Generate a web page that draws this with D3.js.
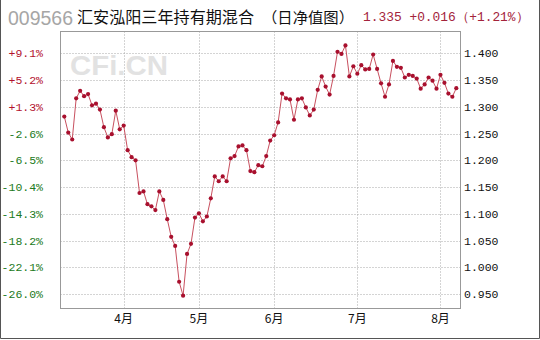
<!DOCTYPE html>
<html>
<head>
<meta charset="utf-8">
<script src="https://cdn.jsdelivr.net/npm/d3@7"></script>
<style>
  body { margin: 0; background: #fff; }
  svg { display: block; }
</style>
</head>
<body>
<div id="chart"></div>
<script>
// daily NAV, one entry per trading day (mid-March .. early August)
const navValues = [
  1.282, 1.252, 1.239, 1.316, 1.330, 1.320, 1.324, 1.303, 1.306, 1.295,
  1.262, 1.243, 1.249, 1.293, 1.258, 1.265, 1.219, 1.206, 1.200, 1.139,
  1.142, 1.118, 1.114, 1.107, 1.142, 1.126, 1.090, 1.057, 1.040, 0.973,
  0.947, 1.025, 1.044, 1.093, 1.101, 1.086, 1.095, 1.129, 1.170, 1.161,
  1.170, 1.161, 1.204, 1.208, 1.226, 1.228, 1.219, 1.180, 1.178, 1.191,
  1.189, 1.208, 1.237, 1.247, 1.271, 1.325, 1.316, 1.314, 1.276, 1.314,
  1.316, 1.299, 1.284, 1.295, 1.332, 1.357, 1.338, 1.323, 1.358, 1.403,
  1.399, 1.415, 1.357, 1.376, 1.362, 1.378, 1.370, 1.371, 1.398, 1.371,
  1.344, 1.319, 1.342, 1.386, 1.375, 1.373, 1.355, 1.360, 1.358, 1.353,
  1.334, 1.342, 1.355, 1.349, 1.334, 1.360, 1.345, 1.325, 1.319, 1.335
];
const monthLabels = ["4月", "5月", "6月", "7月", "8月"];
const monthStartIndex = [15, 34, 53, 74, 95];
const navTicks = [1.40, 1.35, 1.30, 1.25, 1.20, 1.15, 1.10, 1.05, 1.00, 0.95];
const pctLabels = ["+9.1%", "+5.2%", "+1.3%", "-2.6%", "-6.5%", "-10.4%", "-14.3%", "-18.2%", "-22.1%", "-26.0%"];
const fundCode = "009566";
const fundName = "汇安泓阳三年持有期混合";
const chartKind = "（日净值图）";
const latestText = "1.335 +0.016（+1.21%）";

const W = 540, H = 340;
const plot = { left: 60.5, right: 460.5, top: 31.5, bottom: 308.5 };
const tickFont = "'Liberation Mono', 'DejaVu Sans Mono', monospace";

const svg = d3.select("#chart").append("svg")
  .attr("width", W)
  .attr("height", H);

const x = d3.scaleLinear()
  .domain([-0.96, navValues.length + 0.06])
  .range([plot.left, plot.right]);

const y = d3.scaleLinear()
  .domain([0.923, 1.441])
  .range([plot.bottom, plot.top]);

const crisp = v => Math.round(v) + 0.5;

// outer frame
svg.append("path")
  .attr("d", `M0.5,0 V${H - 1.5} H${W - 0.5} V0`)
  .attr("fill", "none")
  .attr("stroke", "#555");

// title line
const title = svg.append("g").attr("class", "title");
title.append("text")
  .attr("x", 8).attr("y", 25)
  .attr("textLength", 65).attr("lengthAdjust", "spacingAndGlyphs")
  .style("font", "20px 'Liberation Sans', Arial, sans-serif")
  .style("fill", "#a6a6a6")
  .text(fundCode);
title.append("text")
  .attr("x", 77).attr("y", 23)
  .attr("textLength", 177).attr("lengthAdjust", "spacingAndGlyphs")
  .style("font", "16px 'Noto Sans CJK SC', sans-serif")
  .style("fill", "#111")
  .text(fundName);
title.append("text")
  .attr("x", 262).attr("y", 23)
  .attr("textLength", 92).attr("lengthAdjust", "spacingAndGlyphs")
  .style("font", "15px 'Noto Sans CJK SC', sans-serif")
  .style("fill", "#111")
  .text(chartKind);
title.append("text")
  .attr("x", 363).attr("y", 21)
  .attr("textLength", 166).attr("lengthAdjust", "spacingAndGlyphs")
  .style("font", "12.5px " + tickFont)
  .style("fill", "#a3233b")
  .text(latestText);

// watermark
svg.append("text")
  .attr("x", 70).attr("y", 75)
  .attr("textLength", 98).attr("lengthAdjust", "spacingAndGlyphs")
  .style("font", "bold 28px 'Liberation Sans', Arial, sans-serif")
  .style("fill", "#e2e2e2")
  .text("CFi.CN");

// grid
const grid = svg.append("g")
  .attr("stroke", "#a8a8a8")
  .attr("stroke-dasharray", "1,2");

grid.selectAll("line.h")
  .data(navTicks)
  .join("line")
  .attr("class", "h")
  .attr("x1", plot.left).attr("x2", plot.right)
  .attr("y1", d => crisp(y(d))).attr("y2", d => crisp(y(d)));

grid.selectAll("line.v")
  .data(monthStartIndex)
  .join("line")
  .attr("class", "v")
  .attr("x1", d => crisp(x(d))).attr("x2", d => crisp(x(d)))
  .attr("y1", plot.top).attr("y2", plot.bottom);

// plot frame
svg.append("rect")
  .attr("x", plot.left).attr("y", plot.top)
  .attr("width", plot.right - plot.left)
  .attr("height", plot.bottom - plot.top)
  .attr("fill", "none")
  .attr("stroke", "#999");

// right axis: NAV
svg.append("g")
  .selectAll("text")
  .data(navTicks)
  .join("text")
  .attr("x", 464)
  .attr("y", d => y(d) + 4)
  .style("font", "11.5px " + tickFont)
  .style("fill", "#111")
  .text(d => d.toFixed(3));

// left axis: percent change
svg.append("g")
  .selectAll("text")
  .data(navTicks)
  .join("text")
  .attr("x", 43)
  .attr("y", d => y(d) + 4)
  .attr("text-anchor", "end")
  .style("font", "11.5px " + tickFont)
  .style("fill", (d, i) => pctLabels[i].startsWith("+") ? "#b3122e" : "#217a21")
  .text((d, i) => pctLabels[i]);

// month labels
svg.append("g")
  .selectAll("text")
  .data(monthStartIndex)
  .join("text")
  .attr("x", d => x(d))
  .attr("y", 323)
  .attr("text-anchor", "middle")
  .style("font", "12px 'Noto Sans CJK SC', sans-serif")
  .style("fill", "#111")
  .text((d, i) => monthLabels[i]);

// NAV line and points
const line = d3.line()
  .x((d, i) => x(i))
  .y(d => y(d));

svg.append("path")
  .datum(navValues)
  .attr("d", line)
  .attr("fill", "none")
  .attr("stroke", "#c8505f")
  .attr("stroke-width", 1);

svg.append("g")
  .selectAll("circle")
  .data(navValues)
  .join("circle")
  .attr("cx", (d, i) => x(i))
  .attr("cy", d => y(d))
  .attr("r", 2.1)
  .attr("fill", "#a8102e");
</script>
</body>
</html>
